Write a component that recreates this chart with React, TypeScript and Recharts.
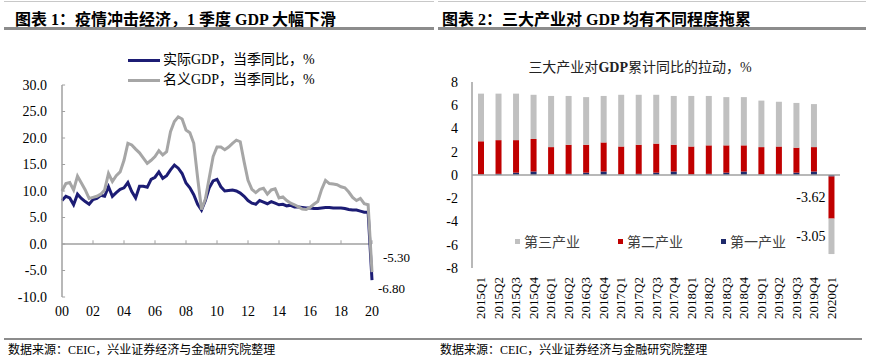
import React from "react";
import {
  LineChart, Line, XAxis, YAxis, ReferenceLine,
  BarChart, Bar, LabelList,
} from "recharts";

// 图表1：实际/名义GDP当季同比（2000Q1 - 2020Q1）
const yearLabels = ["00", "02", "04", "06", "08", "10", "12", "14", "16", "18", "20"];
const gdpTicks = [-10, -5, 0, 5, 10, 15, 20, 25, 30];

const realGdp = [
  8.2, 9.0, 8.7, 7.4, 9.4, 8.6, 8.0, 7.5, 8.4, 8.6, 9.2, 9.0,
  10.8, 9.0, 9.7, 10.3, 10.6, 11.6, 9.9, 8.7, 10.9, 10.9, 10.7, 12.2,
  12.6, 13.6, 12.4, 12.9, 14.0, 14.9, 14.3, 13.3, 11.5, 10.6, 9.3, 7.5,
  6.4, 8.2, 10.6, 11.9, 12.2, 10.8, 10.0, 10.1, 10.2, 10.0, 9.6, 9.0,
  8.2, 7.7, 7.5, 8.2, 7.9, 7.6, 8.0, 7.7, 7.4, 7.5, 7.2, 7.3,
  7.0, 7.0, 6.9, 6.8, 6.8, 6.7, 6.7, 6.8, 6.9, 6.9, 6.8, 6.8,
  6.8, 6.7, 6.5, 6.4, 6.4, 6.2, 6.0, 6.0, -6.8,
];

const nominalGdp = [
  10.0, 11.4, 11.6, 10.2, 12.8, 11.5, 10.2, 8.6, 8.8, 9.0, 9.4, 10.2,
  13.3, 11.8, 12.9, 13.6, 15.8, 19.0, 18.7, 17.9, 17.2, 16.2, 15.2, 15.8,
  16.5, 17.6, 16.8, 17.4, 21.2, 23.1, 24.0, 23.6, 21.5, 21.0, 19.0, 12.5,
  6.5, 8.5, 12.5, 16.5, 18.3, 18.3, 17.8, 18.3, 19.0, 19.6, 19.3, 15.5,
  12.0, 10.3, 9.7, 10.3, 10.5, 9.4, 10.2, 10.4, 8.7, 8.9, 8.2, 7.7,
  7.4, 7.0, 6.6, 6.5, 6.9, 7.5, 8.0, 10.3, 12.0, 11.4, 11.3, 11.2,
  10.8, 10.6, 9.8, 8.8, 8.2, 8.6, 7.6, 7.4, -5.3,
];

// 图表2：三大产业对GDP累计同比的拉动
const quarters = [
  "2015Q1", "2015Q2", "2015Q3", "2015Q4", "2016Q1", "2016Q2", "2016Q3",
  "2016Q4", "2017Q1", "2017Q2", "2017Q3", "2017Q4", "2018Q1", "2018Q2",
  "2018Q3", "2018Q4", "2019Q1", "2019Q2", "2019Q3", "2019Q4", "2020Q1",
];
const primary = [
  0.05, 0.1, 0.2, 0.3, 0.05, 0.1, 0.2, 0.3, 0.05, 0.1, 0.2, 0.3,
  0.05, 0.1, 0.2, 0.3, 0.05, 0.1, 0.2, 0.3, -0.13,
];
const secondary = [
  2.85, 2.9, 2.8, 2.8, 2.35, 2.5, 2.4, 2.5, 2.4, 2.5, 2.5, 2.3,
  2.4, 2.45, 2.35, 2.25, 2.35, 2.35, 2.15, 2.1, -3.62,
];
const tertiary = [
  4.1, 4.0, 4.0, 3.8, 4.4, 4.2, 4.1, 4.0, 4.45, 4.3, 4.2, 4.2,
  4.35, 4.25, 4.15, 4.15, 4.0, 3.85, 3.85, 3.7, -3.05,
];
const barTicks = [-8, -6, -4, -2, 0, 2, 4, 6, 8];

const serif = '"Liberation Serif", "Times New Roman", "Noto Sans CJK SC", serif';
const navy = "#1c1c74";
const grey = "#a6a6a6";
const red = "#c00000";
const barGrey = "#c0c0c0";
const barNavy = "#1f2a6b";
const axisGrey = "#a0a0a0";

const lineData = realGdp.map((v, i) => ({ i, real: v, nominal: nominalGdp[i] }));
const barData = quarters.map((q, i) => ({
  q, primary: primary[i], secondary: secondary[i], tertiary: tertiary[i],
}));
const last = realGdp.length - 1;

const lineLegendItems = [
  { c: navy, t: "实际GDP，当季同比，%" },
  { c: grey, t: "名义GDP，当季同比，%" },
];
const barLegendItems = [
  { c: barGrey, t: "第三产业" },
  { c: red, t: "第二产业" },
  { c: barNavy, t: "第一产业" },
];

const QuarterTick = (props: any) => {
  const { x, y, payload } = props;
  return (
    <text
      x={x} y={y} dy="0.35em" textAnchor="end" fontSize={13} fill="#000"
      fontFamily={serif} transform={`rotate(-90, ${x}, ${y})`}
    >
      {payload.value}
    </text>
  );
};

const endLabel = (dx: number, dy: number) => (props: any) => {
  const { x, y, value, index } = props;
  if (index !== last) return null;
  return (
    <text x={x + dx} y={y + dy} fontSize={13} fontFamily={serif} fill="#000" dominantBaseline="central">
      {Number(value).toFixed(2)}
    </text>
  );
};

const sideLabel = (props: any) => {
  const { x, y, height, value, index } = props;
  if (index !== quarters.length - 1) return null;
  return (
    <text x={x - 3} y={y + height / 2} textAnchor="end" fontSize={14} fontFamily={serif} fill="#000" dominantBaseline="central">
      {Number(value).toFixed(2)}
    </text>
  );
};

const rule = (left: number, top: number, width: number, h: number, color: string) => (
  <div style={{ position: "absolute", left, top, width, height: h, background: color }} />
);

export default function App() {
  return (
    <div style={{ position: "absolute", left: 0, top: 0, width: 871, height: 358, background: "#fff", overflow: "hidden", fontFamily: serif }}>
      {/* 标题 */}
      {rule(4, 1, 430, 1, "#c8c8c8")}
      {rule(438, 1, 428, 1, "#c8c8c8")}
      <div style={{ position: "absolute", left: 15, top: 6, fontSize: 16, fontWeight: "bold", whiteSpace: "nowrap" }}>
        图表 1：疫情冲击经济，1 季度 GDP 大幅下滑
      </div>
      <div style={{ position: "absolute", left: 442, top: 6, fontSize: 16, fontWeight: "bold", whiteSpace: "nowrap" }}>
        图表 2：三大产业对 GDP 均有不同程度拖累
      </div>
      {rule(4, 27, 430, 3, "#8c8c8c")}
      {rule(438, 27, 428, 3, "#8c8c8c")}

      {/* 图表1 */}
      <div style={{ position: "absolute", left: 0, top: 0 }}>
        <LineChart width={430} height={330} data={lineData} margin={{ top: 85, right: 58, bottom: 8, left: 0 }}>
          <XAxis
            dataKey="i" type="number" domain={[0, 80]} ticks={yearLabels.map((_, k) => k * 8)}
            tickFormatter={(v: number) => yearLabels[v / 8]} axisLine={false} tickLine={false}
            tickSize={0} tickMargin={9} height={25}
            tick={{ fontSize: 14, fill: "#000", fontFamily: serif }}
          />
          <YAxis
            domain={[-10, 30]} ticks={gdpTicks} tickFormatter={(v: number) => v.toFixed(1)}
            width={62} tickSize={0} tickMargin={15} tickLine={false}
            axisLine={{ stroke: axisGrey, strokeWidth: 1.5 }}
            tick={{ fontSize: 14, fill: "#000", fontFamily: serif }}
          />
          <ReferenceLine y={0} stroke={axisGrey} strokeWidth={1.5} />
          {yearLabels.slice(1).map((_, k) => (
            <ReferenceLine key={"xt" + k} segment={[{ x: (k + 1) * 8, y: 0 }, { x: (k + 1) * 8, y: 0.7 }]} stroke={axisGrey} />
          ))}
          {gdpTicks.map((t) => (
            <ReferenceLine key={"yt" + t} segment={[{ x: 0, y: t }, { x: 0.8, y: t }]} stroke={axisGrey} />
          ))}
          <Line
            dataKey="real" type="linear" stroke={navy} strokeWidth={3} dot={false}
            isAnimationActive={false}
          >
            <LabelList dataKey="real" content={endLabel(6, 8)} />
          </Line>
          <Line
            dataKey="nominal" type="linear" stroke={grey} strokeWidth={3} dot={false}
            isAnimationActive={false}
          >
            <LabelList dataKey="nominal" content={endLabel(11, -15)} />
          </Line>
        </LineChart>
      </div>
      <div style={{ position: "absolute", left: 128, top: 50, fontSize: 14, lineHeight: "20px", whiteSpace: "nowrap" }}>
        {lineLegendItems.map((it) => (
          <div key={it.t} style={{ display: "flex", alignItems: "center" }}>
            <span style={{ display: "inline-block", width: 32, height: 3, background: it.c, marginRight: 3 }} />
            {it.t}
          </div>
        ))}
      </div>

      {/* 图表2 */}
      <div style={{ position: "absolute", left: 525, top: 56, width: 230, textAlign: "center", fontSize: 14, color: "#222", whiteSpace: "nowrap" }}>
        三大产业对<b>GDP</b>累计同比的拉动，%
      </div>
      <div style={{ position: "absolute", left: 435, top: 0 }}>
        <BarChart
          width={436} height={330} data={barData} stackOffset="sign"
          margin={{ top: 82, right: 31, bottom: 7, left: 0 }} barCategoryGap="65%"
        >
          <XAxis
            dataKey="q" interval={0} axisLine={false} tickLine={false}
            tickSize={0} tickMargin={9} height={55} tick={<QuarterTick />}
          />
          <YAxis
            domain={[-8, 8]} ticks={barTicks} width={37} tickSize={0} tickMargin={14}
            tickLine={false} axisLine={{ stroke: axisGrey, strokeWidth: 1.5 }}
            tick={{ fontSize: 14, fill: "#000", fontFamily: serif }}
          />
          <ReferenceLine y={0} stroke={axisGrey} strokeWidth={1.5} />
          <Bar dataKey="primary" stackId="a" fill={barNavy} barSize={6} isAnimationActive={false} />
          <Bar dataKey="secondary" stackId="a" fill={red} barSize={6} isAnimationActive={false}>
            <LabelList dataKey="secondary" content={sideLabel} />
          </Bar>
          <Bar dataKey="tertiary" stackId="a" fill={barGrey} barSize={6} isAnimationActive={false}>
            <LabelList dataKey="tertiary" content={sideLabel} />
          </Bar>
        </BarChart>
      </div>
      <div style={{ position: "absolute", left: 515, top: 231, display: "flex", fontSize: 14, color: "#404040", whiteSpace: "nowrap" }}>
        {barLegendItems.map((it) => (
          <div key={it.t} style={{ width: 103, display: "flex", alignItems: "center" }}>
            <span style={{ display: "inline-block", width: 5, height: 5, background: it.c, marginRight: 4 }} />
            {it.t}
          </div>
        ))}
      </div>

      {/* 数据来源 */}
      {rule(4, 338, 858, 2, "#8c8c8c")}
      <div style={{ position: "absolute", left: 8, top: 343, fontSize: 12, lineHeight: "14px", whiteSpace: "nowrap" }}>
        数据来源：CEIC，兴业证券经济与金融研究院整理
      </div>
      <div style={{ position: "absolute", left: 440, top: 343, fontSize: 12, lineHeight: "14px", whiteSpace: "nowrap" }}>
        数据来源：CEIC，兴业证券经济与金融研究院整理
      </div>
    </div>
  );
}
